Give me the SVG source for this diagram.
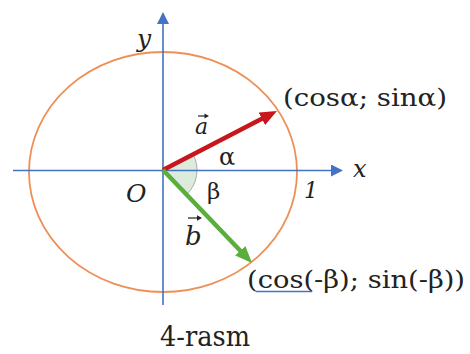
<svg xmlns="http://www.w3.org/2000/svg" width="470" height="354" viewBox="0 0 470 354">
  <style>
    .axis { stroke: #4472C4; stroke-width: 1.6; fill: none; }
    .circ { stroke: #EE9055; stroke-width: 1.8; fill: none; }
    .acc { stroke: #222; stroke-width: 1.2; fill: none; }
    text { font-family: 'DejaVu Serif', serif; fill: #222; }
    .it { font-style: italic; }
  </style>
  <defs>
    <marker id="ax" markerUnits="userSpaceOnUse" markerWidth="12" markerHeight="12" refX="2" refY="6" orient="auto">
      <path d="M0,0 L12,6 L0,12 z" fill="#4472C4"/>
    </marker>
    <marker id="ar" markerUnits="userSpaceOnUse" markerWidth="17" markerHeight="14" refX="7" refY="7" orient="auto">
      <path d="M0,0 L17,7 L0,14 z" fill="#C8161D"/>
    </marker>
    <marker id="ag" markerUnits="userSpaceOnUse" markerWidth="17" markerHeight="14" refX="7" refY="7" orient="auto">
      <path d="M0,0 L17,7 L0,14 z" fill="#5AAE3C"/>
    </marker>
  </defs>

  <g id="angle">
    <path d="M163,170 L193.2,154.4 A34,34 0 0 1 186.5,194.6 Z" fill="#DCEBDC" stroke="#A8B0A8" stroke-width="1"/>
  </g>

  <g id="circle">
    <ellipse class="circ" cx="163" cy="172" rx="134" ry="120"/>
  </g>

  <g id="connectors">
    <line id="x-axis" class="axis" x1="13" y1="170.5" x2="333" y2="170.5" marker-end="url(#ax)"/>
    <line id="y-axis" class="axis" x1="163" y1="305" x2="163" y2="22" marker-end="url(#ax)"/>
    <line id="vec-a" x1="163" y1="170" x2="268.1" y2="115.6" stroke="#C8161D" stroke-width="4.5" marker-end="url(#ar)"/>
    <line id="vec-b" x1="163" y1="170" x2="245.1" y2="255.8" stroke="#5AAE3C" stroke-width="4.5" marker-end="url(#ag)"/>
  </g>

  <g id="labels">
    <text class="it" x="137" y="47" font-size="25">y</text>
    <text class="it" x="353" y="177" font-size="24">x</text>
    <text class="it" x="126" y="202" font-size="25">O</text>
    <text class="it" x="304" y="198" font-size="22">1</text>
    <text x="219" y="165" font-size="24">α</text>
    <text x="207" y="199" font-size="23">β</text>
    <g id="label-a">
      <text class="it" x="195" y="134" font-size="22">a</text>
      <path class="acc" d="M198,116 L207,116"/>
      <path d="M209,116 L204.5,113.5 L204.5,118.5 z" fill="#222"/>
    </g>
    <g id="label-b">
      <text class="it" x="185" y="245" font-size="26">b</text>
      <path class="acc" d="M188,218 L199,218"/>
      <path d="M202,218 L197,215.3 L197,220.7 z" fill="#222"/>
    </g>
    <text x="283" y="106" font-size="25" textLength="164" lengthAdjust="spacingAndGlyphs">(cosα; sinα)</text>
    <text x="247" y="288" font-size="25" textLength="218" lengthAdjust="spacingAndGlyphs">(cos(-β); sin(-β))</text>
    <line x1="256" y1="291.5" x2="312" y2="291.5" stroke="#4472C4" stroke-width="1.5"/>
    <text x="160" y="346" font-size="27" textLength="90" lengthAdjust="spacingAndGlyphs">4-rasm</text>
  </g>
</svg>
